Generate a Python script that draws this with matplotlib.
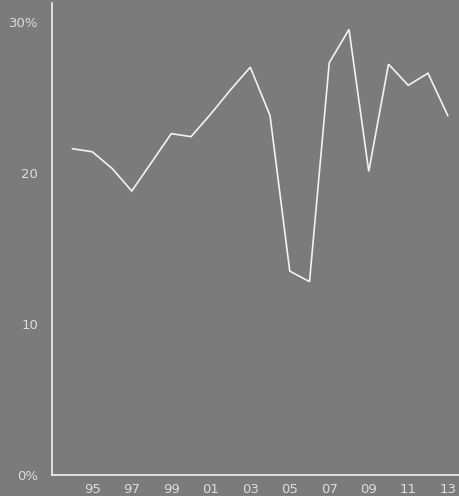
import matplotlib
matplotlib.use("Agg")
import matplotlib.pyplot as plt

years = list(range(1994, 2014))
values = [21.6, 21.4, 20.3, 18.8, 20.7, 22.6, 22.4, 23.9, 25.5, 27.0,
          23.8, 13.5, 12.8, 27.3, 29.5, 20.1, 27.2, 25.8, 26.6, 23.8]
xtick_years = [1995, 1997, 1999, 2001, 2003, 2005, 2007, 2009, 2011, 2013]
xtick_labels = ["95", "97", "99", "01", "03", "05", "07", "09", "11", "13"]
ytick_vals = [0, 10, 20, 30]
ytick_labels = ["0%", "10", "20", "30%"]

bg = "#7b7b7b"
fg = "#f2f2f2"
txt = "#dcdcdc"

fig = plt.figure(figsize=(4.59, 4.96), dpi=100, facecolor=bg)
ax = fig.add_axes([52/459, 21/496, 1 - 52/459, 472/496])
ax.set_facecolor(bg)
ax.plot(years, values, color=fg, lw=1.2, solid_joinstyle="miter")

ax.set_xlim(1992.96, 2013.57)
ax.set_ylim(0.2, 31.25)
ax.set_xticks(xtick_years)
ax.set_xticklabels(xtick_labels)
ax.set_yticks(ytick_vals)
ax.set_yticklabels(ytick_labels)
ax.tick_params(axis="both", length=0, colors=txt, labelsize=9.5)
ax.tick_params(axis="y", pad=10)
ax.tick_params(axis="x", pad=6)
for lab in ax.get_yticklabels() + ax.get_xticklabels():
    lab.set_color(txt)

for s in ["top", "right"]:
    ax.spines[s].set_visible(False)
for s in ["left", "bottom"]:
    ax.spines[s].set_color(fg)
    ax.spines[s].set_linewidth(1.2)

fig.savefig("out.png", dpi=100, facecolor=bg)
